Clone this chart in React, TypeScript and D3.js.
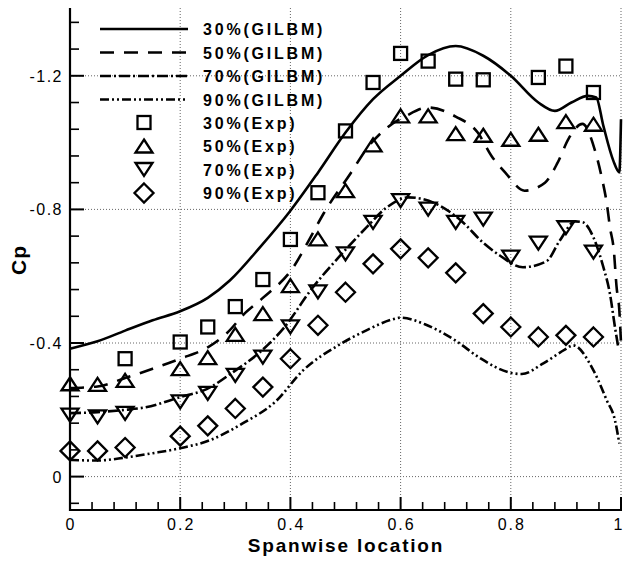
import React from "react";
import * as d3 from "d3";

// ---- Data ----
const gilbmX30 = [0, 0.05, 0.1, 0.15, 0.2, 0.25, 0.29, 0.345, 0.4, 0.45, 0.5, 0.55, 0.6, 0.65, 0.7, 0.75, 0.8, 0.85, 0.88, 0.91, 0.94, 0.955, 0.968, 0.986, 0.997, 1.0];
const gilbm30 = [-0.383, -0.405, -0.437, -0.468, -0.495, -0.535, -0.587, -0.687, -0.796, -0.91, -1.03, -1.13, -1.2, -1.262, -1.289, -1.26, -1.2, -1.12, -1.095, -1.12, -1.14, -1.135, -1.05, -0.946, -0.911, -1.07];

const gilbmX50 = [0, 0.05, 0.1, 0.15, 0.2, 0.25, 0.285, 0.318, 0.35, 0.405, 0.436, 0.46, 0.51, 0.54, 0.575, 0.61, 0.65, 0.7, 0.74, 0.765, 0.79, 0.825, 0.862, 0.885, 0.905, 0.93, 0.953, 0.965, 0.974, 0.98, 0.987, 0.992, 0.997, 1.0];
const gilbm50 = [-0.265, -0.27, -0.295, -0.323, -0.353, -0.387, -0.43, -0.49, -0.535, -0.626, -0.715, -0.787, -0.91, -0.985, -1.044, -1.08, -1.105, -1.078, -1.03, -0.96, -0.91, -0.856, -0.88, -0.94, -1.012, -1.056, -0.975, -0.896, -0.82, -0.746, -0.677, -0.567, -0.497, -0.4];

const gilbmX70 = [0, 0.05, 0.1, 0.136, 0.2, 0.248, 0.296, 0.345, 0.387, 0.441, 0.495, 0.538, 0.575, 0.614, 0.664, 0.71, 0.75, 0.78, 0.822, 0.865, 0.889, 0.917, 0.93, 0.95, 0.968, 0.98, 0.989, 0.995];
const gilbm70 = [-0.19, -0.193, -0.2, -0.207, -0.238, -0.262, -0.313, -0.373, -0.443, -0.567, -0.67, -0.746, -0.806, -0.836, -0.817, -0.766, -0.7, -0.662, -0.627, -0.645, -0.707, -0.764, -0.762, -0.716, -0.627, -0.547, -0.448, -0.388];

const gilbmX90 = [0, 0.05, 0.1, 0.15, 0.2, 0.254, 0.314, 0.372, 0.423, 0.49, 0.538, 0.584, 0.6, 0.644, 0.699, 0.744, 0.799, 0.82, 0.859, 0.898, 0.913, 0.95, 0.974, 0.989, 0.997];
const gilbm90 = [-0.05, -0.048, -0.057, -0.07, -0.085, -0.109, -0.16, -0.223, -0.318, -0.396, -0.438, -0.47, -0.476, -0.456, -0.408, -0.355, -0.311, -0.307, -0.339, -0.38, -0.393, -0.318, -0.229, -0.169, -0.099];

const expX30 = [0.1, 0.2, 0.25, 0.3, 0.35, 0.4, 0.45, 0.5, 0.55, 0.6, 0.65, 0.7, 0.75, 0.85, 0.9, 0.95];
const exp30 = [-0.353, -0.403, -0.448, -0.509, -0.59, -0.71, -0.85, -1.035, -1.18, -1.267, -1.244, -1.19, -1.188, -1.195, -1.229, -1.15];

const expX50 = [0, 0.05, 0.1, 0.2, 0.25, 0.3, 0.35, 0.4, 0.45, 0.5, 0.55, 0.6, 0.65, 0.7, 0.75, 0.8, 0.85, 0.9, 0.95];
const exp50 = [-0.278, -0.276, -0.288, -0.323, -0.356, -0.426, -0.488, -0.572, -0.712, -0.856, -0.993, -1.08, -1.08, -1.027, -1.022, -1.01, -1.025, -1.063, -1.055];

const expX70 = [0, 0.05, 0.1, 0.2, 0.25, 0.3, 0.35, 0.4, 0.45, 0.5, 0.55, 0.6, 0.65, 0.7, 0.75, 0.8, 0.85, 0.9, 0.95];
const exp70 = [-0.184, -0.179, -0.189, -0.224, -0.249, -0.303, -0.358, -0.448, -0.553, -0.667, -0.761, -0.826, -0.801, -0.761, -0.771, -0.657, -0.699, -0.745, -0.672];

const expX90 = [0, 0.05, 0.1, 0.2, 0.25, 0.3, 0.35, 0.4, 0.45, 0.5, 0.55, 0.6, 0.65, 0.7, 0.75, 0.8, 0.85, 0.9, 0.95];
const exp90 = [-0.077, -0.077, -0.087, -0.121, -0.152, -0.204, -0.268, -0.353, -0.453, -0.552, -0.637, -0.682, -0.655, -0.61, -0.488, -0.448, -0.418, -0.423, -0.418];

const xTickValues = [0, 0.2, 0.4, 0.6, 0.8, 1];
const xTickLabels = ["0", "0.2", "0.4", "0.6", "0.8", "1"];
const yTickValues = [0, -0.4, -0.8, -1.2];
const yTickLabels = ["0", "-0.4", "-0.8", "-1.2"];
const legendLabels = ["30%(GILBM)", "50%(GILBM)", "70%(GILBM)", "90%(GILBM)", "30%(Exp)", "50%(Exp)", "70%(Exp)", "90%(Exp)"];

// ---- Layout ----
const W = 623, H = 562;
const X0 = 70, X1 = 621, YT = 8, YB = 510;
const FONT = "'Liberation Sans', Arial, Helvetica, sans-serif";

const x = d3.scaleLinear().domain([0, 1]).range([X0, X1]);
const y = d3.scaleLinear().domain([-1.4, 0.1]).range([9, 510]);

const lineGen = d3
  .line<[number, number]>()
  .x((d) => x(d[0]))
  .y((d) => y(d[1]))
  .curve(d3.curveMonotoneX);

const zip = (xs: number[], ys: number[]) => xs.map((v, i) => [v, ys[i]] as [number, number]);

const lineStyles = [
  { dash: "none" },
  { dash: "14,10" },
  { dash: "11,3,2,3" },
  { dash: "9,3,2,3,2,3" },
];

function Marker({ kind, cx, cy }: { kind: number; cx: number; cy: number }) {
  const sw = 2.3;
  if (kind === 0) {
    const s = 13;
    return <rect x={cx - s / 2} y={cy - s / 2} width={s} height={s} fill="none" stroke="#000" strokeWidth={sw} />;
  }
  if (kind === 1) {
    const w = 17, h = 13;
    return <path d={`M${cx},${cy - h / 2}L${cx + w / 2},${cy + h / 2}L${cx - w / 2},${cy + h / 2}Z`} fill="none" stroke="#000" strokeWidth={sw} strokeLinejoin="miter" />;
  }
  if (kind === 2) {
    const w = 17, h = 13;
    return <path d={`M${cx - w / 2},${cy - h / 2}L${cx + w / 2},${cy - h / 2}L${cx},${cy + h / 2}Z`} fill="none" stroke="#000" strokeWidth={sw} strokeLinejoin="miter" />;
  }
  const r = 9.5;
  return <path d={`M${cx},${cy - r}L${cx + r},${cy}L${cx},${cy + r}L${cx - r},${cy}Z`} fill="none" stroke="#000" strokeWidth={sw} />;
}

export default function App() {
  const curves = [zip(gilbmX30, gilbm30), zip(gilbmX50, gilbm50), zip(gilbmX70, gilbm70), zip(gilbmX90, gilbm90)];
  const exps = [zip(expX30, exp30), zip(expX50, exp50), zip(expX70, exp70), zip(expX90, exp90)];

  const xMinor = d3.range(0, 1.0001, 0.04).filter((v) => !xTickValues.some((t) => Math.abs(t - v) < 1e-6));
  const yMinor = d3.range(-1.36, 0.1001, 0.08).filter((v) => !yTickValues.some((t) => Math.abs(t - v) < 1e-6));

  const legendRows = [29, 52.5, 76, 99.5, 122.5, 146, 169.5, 193];

  return (
    <svg width={W} height={H} style={{ position: "absolute", left: 0, top: 0, background: "#fff" }} fontFamily={FONT}>
      <rect x={0} y={0} width={W} height={H} fill="#fff" />
      {/* grid */}
      {xTickValues.filter((v) => v > 0).map((v) => (
        <line key={"gx" + v} x1={x(v)} x2={x(v)} y1={YT} y2={YB} stroke="#666" strokeWidth={1} strokeDasharray="1,2" />
      ))}
      {yTickValues.map((v) => (
        <line key={"gy" + v} x1={X0} x2={X1} y1={y(v)} y2={y(v)} stroke="#666" strokeWidth={1} strokeDasharray="1,2" />
      ))}

      {/* curves */}
      {curves.map((c, i) => (
        <path key={"c" + i} d={lineGen(c) || ""} fill="none" stroke="#000" strokeWidth={2.6} strokeDasharray={lineStyles[i].dash} />
      ))}

      {/* markers */}
      {exps.map((pts, k) =>
        pts.map((p, j) => <Marker key={`m${k}-${j}`} kind={k} cx={x(p[0])} cy={y(p[1])} />)
      )}

      {/* axes */}
      <line x1={X0} x2={X0} y1={YT} y2={YB + 1} stroke="#000" strokeWidth={2.2} />
      <line x1={X0 - 1} x2={X1 + 1} y1={YB} y2={YB} stroke="#000" strokeWidth={2.2} />
      {xTickValues.map((v) => (
        <line key={"xt" + v} x1={x(v)} x2={x(v)} y1={YB} y2={YB - 13} stroke="#000" strokeWidth={2} />
      ))}
      {xMinor.map((v) => (
        <line key={"xm" + v} x1={x(v)} x2={x(v)} y1={YB} y2={YB - 8} stroke="#000" strokeWidth={1.6} />
      ))}
      {yTickValues.map((v) => (
        <line key={"yt" + v} x1={X0} x2={X0 + 14} y1={y(v)} y2={y(v)} stroke="#000" strokeWidth={2} />
      ))}
      {yMinor.map((v) => (
        <line key={"ym" + v} x1={X0} x2={X0 + 9} y1={y(v)} y2={y(v)} stroke="#000" strokeWidth={1.6} />
      ))}

      {/* tick labels */}
      {xTickValues.map((v, i) => {
        const last = i === xTickValues.length - 1;
        return (
          <text
            key={"xl" + v}
            x={last ? x(v) - 3 : x(v) + 1}
            y={530}
            textAnchor="middle"
            fontSize={16}
            letterSpacing={last ? 0 : 2}
            fill="#000"
          >
            {xTickLabels[i]}
          </text>
        );
      })}
      {yTickValues.map((v, i) => (
        <text key={"yl" + v} x={63} y={y(v) + 6} textAnchor="end" fontSize={16} letterSpacing={1.5} fill="#000">
          {yTickLabels[i]}
        </text>
      ))}

      {/* axis titles */}
      <text x={346} y={552} textAnchor="middle" fontSize={19} fontWeight="bold" letterSpacing={1.8}>
        Spanwise location
      </text>
      <text transform="translate(26,260) rotate(-90)" textAnchor="middle" fontSize={21} fontWeight="bold" letterSpacing={1}>
        Cp
      </text>

      {/* legend */}
      {legendRows.map((ry, i) => (
        <g key={"lg" + i}>
          {i < 4 ? (
            <line x1={100} x2={188} y1={ry} y2={ry} stroke="#000" strokeWidth={2.6} strokeDasharray={lineStyles[i].dash} />
          ) : (
            <Marker kind={i - 4} cx={144} cy={ry} />
          )}
          <text x={203} y={ry + 6} fontSize={16} fontWeight="bold" letterSpacing={2.8} fill="#000">
            {legendLabels[i]}
          </text>
        </g>
      ))}
    </svg>
  );
}
